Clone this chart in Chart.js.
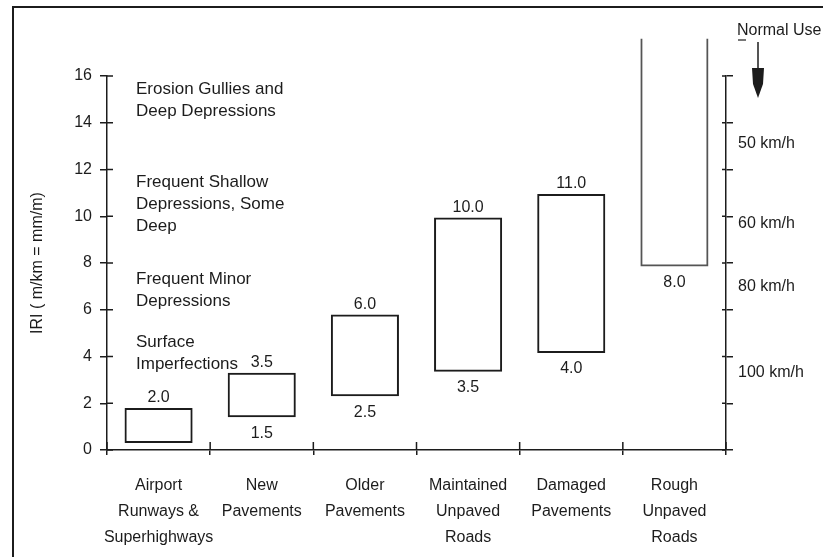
<!DOCTYPE html>
<html lang="en">
<head>
<meta charset="UTF-8">
<title>IRI roughness scale</title>
<script src="https://cdn.jsdelivr.net/npm/chart.js"></script>
<style>
  html, body { margin: 0; padding: 0; background: #fff; }
  #wrap { position: relative; width: 823px; height: 557px; }
</style>
</head>
<body>
<div id="wrap"><canvas id="iriChart"></canvas></div>
<script>
// categories (one entry per bar, multi-line labels)
const categories = [
  ['Airport', 'Runways &', 'Superhighways'],
  ['New', 'Pavements'],
  ['Older', 'Pavements'],
  ['Maintained', 'Unpaved', 'Roads'],
  ['Damaged', 'Pavements'],
  ['Rough', 'Unpaved', 'Roads']
];
// IRI range of each bar as drawn (bottom, top)
const iriLow  = [0.3, 1.4, 2.3, 3.35, 4.15, 7.85];
const iriHigh = [1.8, 3.3, 5.8, 9.95, 10.95, 17.6];
// numbers printed above / below the bars
const topLabels    = ['2.0', '3.5', '6.0', '10.0', '11.0', ''];
const bottomLabels = ['', '1.5', '2.5', '3.5', '4.0', '8.0'];
// left axis ticks
const iriTicks = [0, 2, 4, 6, 8, 10, 12, 14, 16];
// right side speed scale
const speedLabels = ['100 km/h', '80 km/h', '60 km/h', '50 km/h'];
const speedAt     = [3.3, 7.0, 9.7, 13.1];
// description texts on the left, with the IRI level of their first line
const descText = [
  ['Erosion Gullies and', 'Deep Depressions'],
  ['Frequent Shallow', 'Depressions, Some', 'Deep'],
  ['Frequent Minor', 'Depressions'],
  ['Surface', 'Imperfections']
];
const descAt = [15.45, 11.45, 7.3, 4.62];

const INK = '#1c1c1c';
const FONT = "'Liberation Sans', Arial, sans-serif";

// frame, inner tick stubs, bar numbers, descriptions, "Normal Use" arrow
const decor = {
  id: 'decor',
  afterDraw(chart) {
    const ctx = chart.ctx;
    const x = chart.scales.x, y = chart.scales.y, yr = chart.scales.yRight;
    ctx.save();
    ctx.strokeStyle = INK;
    ctx.fillStyle = INK;

    // frame (left and top edges)
    ctx.lineWidth = 2;
    ctx.beginPath();
    ctx.moveTo(13, 557); ctx.lineTo(13, 7); ctx.lineTo(823, 7);
    ctx.stroke();

    // tick stubs inside the plot
    ctx.lineWidth = 1.5;
    ctx.beginPath();
    iriTicks.forEach(v => {
      const py = y.getPixelForValue(v);
      ctx.moveTo(y.right, py); ctx.lineTo(y.right + 6, py);
      ctx.moveTo(yr.left, py); ctx.lineTo(yr.left - 4, py);
    });
    for (let i = 0; i <= categories.length; i++) {
      const px = x.left + (x.right - x.left) * i / categories.length;
      ctx.moveTo(px, x.top); ctx.lineTo(px, x.top - 8);
    }
    ctx.stroke();

    // numbers above and below bars
    ctx.font = '16px ' + FONT;
    ctx.textAlign = 'center';
    ctx.textBaseline = 'middle';
    chart.getDatasetMeta(0).data.forEach((bar, i) => {
      const top = Math.min(bar.y, bar.base), bot = Math.max(bar.y, bar.base);
      if (topLabels[i]) ctx.fillText(topLabels[i], bar.x, top - 10);
      if (bottomLabels[i]) ctx.fillText(bottomLabels[i], bar.x, bot + 16);
    });

    // descriptions
    ctx.font = '17px ' + FONT;
    ctx.textAlign = 'left';
    descText.forEach((lines, i) => {
      const py = y.getPixelForValue(descAt[i]);
      lines.forEach((t, j) => ctx.fillText(t, x.left + 29, py + j * 22));
    });

    // Normal Use arrow
    ctx.font = '16px ' + FONT;
    ctx.fillText('Normal Use', yr.left + 11, 31);
    ctx.lineWidth = 1.2;
    ctx.beginPath();
    ctx.moveTo(yr.left + 12, 40); ctx.lineTo(yr.left + 20, 40);
    ctx.stroke();
    const ax = yr.left + 32;
    ctx.lineWidth = 1.5;
    ctx.beginPath();
    ctx.moveTo(ax, 42); ctx.lineTo(ax, 70);
    ctx.stroke();
    ctx.beginPath();
    ctx.moveTo(ax - 6, 68); ctx.lineTo(ax + 6, 68);
    ctx.lineTo(ax + 5, 84); ctx.lineTo(ax, 98);
    ctx.lineTo(ax - 5, 84); ctx.closePath();
    ctx.fill();

    ctx.restore();
  }
};

const chart = new Chart(document.getElementById('iriChart').getContext('2d'), {
  type: 'bar',
  data: {
    labels: categories,
    datasets: [{
      data: iriLow.map((lo, i) => [lo, iriHigh[i]]),
      backgroundColor: 'rgba(255,255,255,0)',
      borderColor: ['#1c1c1c', '#1c1c1c', '#1c1c1c', '#1c1c1c', '#1c1c1c', '#555'],
      borderWidth: 2,
      borderSkipped: c => c.dataIndex === 5 ? 'top' : false,
      barPercentage: 0.66,
      categoryPercentage: 1,
      clip: false
    }]
  },
  options: {
    responsive: true,
    maintainAspectRatio: false,
    animation: false,
    layout: { padding: { top: 76, left: 0, right: 0, bottom: 0 } },
    plugins: { legend: { display: false }, tooltip: { enabled: false } },
    scales: {
      x: {
        afterFit: s => { s.height = 107; },
        grid: { drawOnChartArea: false, tickLength: 5, color: INK, lineWidth: 1.5 },
        border: { color: INK, width: 1.5 },
        ticks: {
          color: INK, padding: 18, maxRotation: 0, autoSkip: false,
          font: { family: FONT, size: 16, lineHeight: '26px' }
        }
      },
      y: {
        min: 0, max: 16,
        afterFit: s => { s.width = 107; },
        afterBuildTicks: s => { s.ticks = iriTicks.map(v => ({ value: v })); },
        grid: { drawOnChartArea: false, tickLength: 7, color: INK, lineWidth: 1.5 },
        border: { color: INK, width: 1.5 },
        ticks: { color: INK, padding: 8, font: { family: FONT, size: 16 } },
        title: {
          display: true, text: 'IRI ( m/km = mm/m)', color: INK,
          padding: { top: 28, bottom: 0 }, font: { family: FONT, size: 16 }
        }
      },
      yRight: {
        type: 'linear', position: 'right',
        min: 0, max: 16,
        afterFit: s => { s.width = 97; },
        afterBuildTicks: s => {
          s.ticks = iriTicks.concat(speedAt).sort((a, b) => a - b).map(v => ({ value: v }));
        },
        grid: {
          drawOnChartArea: false, tickLength: 7, lineWidth: 1.5,
          tickColor: c => (c.tick && speedAt.includes(c.tick.value)) ? 'rgba(0,0,0,0)' : INK
        },
        border: { color: INK, width: 1.5 },
        ticks: {
          color: INK, padding: 5, autoSkip: false,
          font: { family: FONT, size: 16 },
          callback: v => {
            const k = speedAt.indexOf(v);
            return k >= 0 ? speedLabels[k] : '';
          }
        }
      }
    }
  },
  plugins: [decor]
});
</script>
</body>
</html>
